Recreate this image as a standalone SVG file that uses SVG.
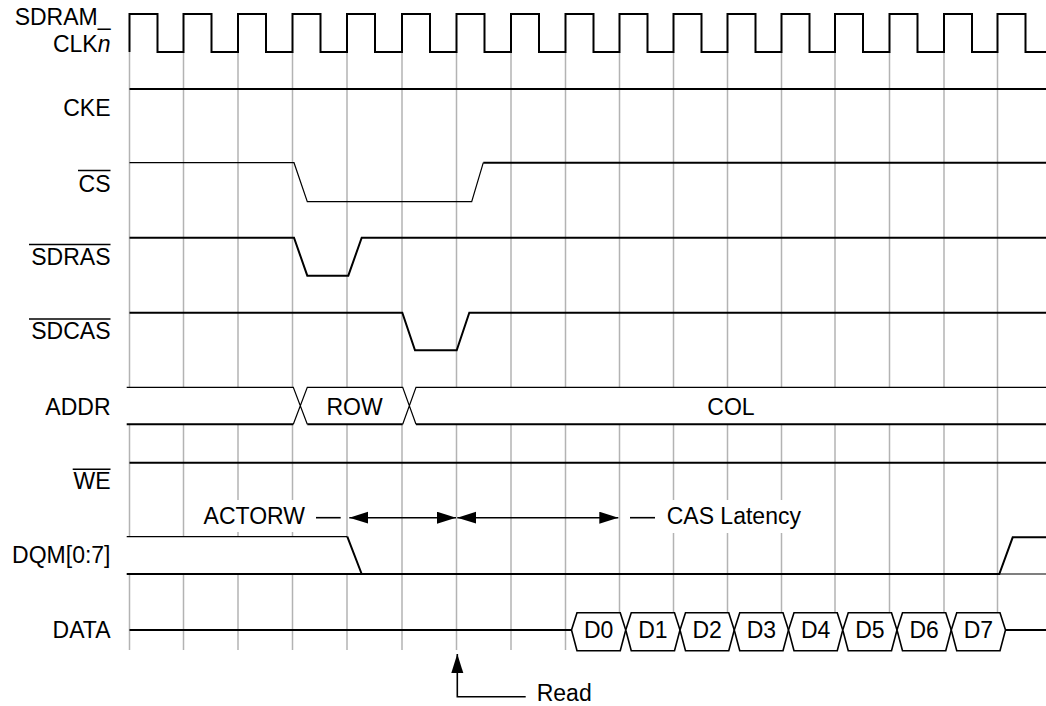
<svg xmlns="http://www.w3.org/2000/svg" width="1046" height="706" viewBox="0 0 1046 706">
<style>
text{font-family:"Liberation Sans",Arial,sans-serif;font-size:23px;fill:#000}
.lbl{text-anchor:end}
.mid{text-anchor:middle}
.grid line{stroke:#b3b3b3;stroke-width:1.5}
.sig{fill:none;stroke:#000;stroke-width:2;stroke-linejoin:miter}
.thin{fill:none;stroke:#000;stroke-width:1.2}
.ov{stroke:#000;stroke-width:1.6}
.hex{fill:#fff;stroke:#000;stroke-width:1.6}
.bg{fill:#fff;stroke:none}
.arr{fill:none;stroke:#000;stroke-width:1.6}
</style>
<defs>
<marker id="ah" markerUnits="userSpaceOnUse" markerWidth="20" markerHeight="14" refX="19" refY="6" orient="auto-start-reverse">
<path d="M0,0 L19,6 L0,12 Z" fill="#000"/>
</marker>
</defs>
<rect width="1046" height="706" fill="#fff"/>
<g id="grid" class="grid">
<line x1="129.5" y1="52" x2="129.5" y2="650"/>
<line x1="183.5" y1="52" x2="183.5" y2="650"/>
<line x1="238" y1="52" x2="238" y2="650"/>
<line x1="292.5" y1="52" x2="292.5" y2="650"/>
<line x1="347" y1="52" x2="347" y2="650"/>
<line x1="402" y1="52" x2="402" y2="650"/>
<line x1="456.5" y1="52" x2="456.5" y2="650"/>
<line x1="511" y1="52" x2="511" y2="650"/>
<line x1="565.5" y1="52" x2="565.5" y2="650"/>
<line x1="619.5" y1="52" x2="619.5" y2="650"/>
<line x1="673.5" y1="52" x2="673.5" y2="650"/>
<line x1="727.5" y1="52" x2="727.5" y2="650"/>
<line x1="781.5" y1="52" x2="781.5" y2="650"/>
<line x1="835" y1="52" x2="835" y2="650"/>
<line x1="889.5" y1="52" x2="889.5" y2="650"/>
<line x1="944" y1="52" x2="944" y2="650"/>
<line x1="997.5" y1="52" x2="997.5" y2="650"/>
</g>
<g id="clk">
<text class="lbl" x="110.5" y="25">SDRAM_</text>
<text class="lbl" x="110.5" y="52">CLK<tspan font-style="italic">n</tspan></text>
<path class="sig" d="M129.5,52 V14 H157.5 V52 H183.5 V14 H211.5 V52 H238 V14 H266 V52 H292.5 V14 H320.5 V52 H347 V14 H375 V52 H402 V14 H430 V52 H456.5 V14 H484.5 V52 H511 V14 H539 V52 H565.5 V14 H593.5 V52 H619.5 V14 H647.5 V52 H673.5 V14 H701.5 V52 H727.5 V14 H755.5 V52 H781.5 V14 H809.5 V52 H835 V14 H863 V52 H889.5 V14 H917.5 V52 H944 V14 H972 V52 H997.5 V14 H1025.5 V52 H1046"/>
</g>
<g id="cke">
<text class="lbl" x="110.5" y="116">CKE</text>
<path class="sig" d="M129.5,89 H1046"/>
</g>
<g id="cs">
<text class="lbl" x="110.5" y="191.5">CS</text>
<line class="ov" x1="78" y1="170.5" x2="110.5" y2="170.5"/>
<path class="thin" d="M129.5,162.7 H294 L307.3,201.7 H471.7 L483.3,162.7"/>
<path class="sig" d="M483.3,162.7 H1046"/>
</g>
<g id="sdras">
<text class="lbl" x="110.5" y="265">SDRAS</text>
<line class="ov" x1="29" y1="244.5" x2="110.5" y2="244.5"/>
<path class="sig" d="M129.5,237.7 H294 L307.3,275.7 H348.3 L361.7,237.7 H1046"/>
</g>
<g id="sdcas">
<text class="lbl" x="110.5" y="339.3">SDCAS</text>
<line class="ov" x1="29" y1="319" x2="110.5" y2="319"/>
<path class="sig" d="M129.5,312.7 H402.3 L415,350.3 H456.7 L469.3,312.7 H1046"/>
</g>
<g id="addr">
<text class="lbl" x="110.5" y="415">ADDR</text>
<path class="bg" d="M126.7,387.3 H293.3 L300.3,405.8 L307.3,387.3 H402.7 L409.3,405.8 L416,387.3 H990 V424.3 H416 L409.3,405.8 L402.7,424.3 H307.3 L300.3,405.8 L293.3,424.3 H126.7 Z"/>
<path class="thin" d="M126.7,387.3 H293.3 L307.3,424.3 M293.3,424.3 L307.3,387.3 H402.7 L416,424.3 M402.7,424.3 L416,387.3 H1046"/>
<path class="sig" d="M126.7,424.3 H293.3 M307.3,424.3 H402.7 M416,424.3 H1046"/>
<text class="mid" x="354.5" y="415">ROW</text>
<text class="mid" x="731" y="415">COL</text>
</g>
<g id="we">
<text class="lbl" x="110.5" y="489.3">WE</text>
<line class="ov" x1="72.7" y1="469.3" x2="110.5" y2="469.3"/>
<path class="sig" d="M129.5,462.7 H1046"/>
</g>
<g id="dqm">
<text class="lbl" x="110.5" y="563.3">DQM[0:7]</text>
<path class="bg" d="M126.7,536.7 H347.3 L361.7,574 H126.7 Z"/>
<path class="bg" d="M999.3,574 L1012.7,537.3 H1046 V574 Z"/>
<path class="thin" d="M126.7,536.7 H347.3"/>
<path class="sig" d="M347.3,536.7 L361.7,574 M126.7,574 H999.3 L1012.7,537.3 H1046"/>
<path class="thin" d="M999.3,574 H1046" stroke="#555"/>
</g>
<g id="data">
<text class="lbl" x="110.5" y="638.3">DATA</text>
<path class="sig" d="M129.5,630 H571.5 M1005.5,630 H1046"/>
<polygon class="hex" points="571.5,630 577,612.7 620.25,612.7 625.75,630 620.25,650.7 577,650.7"/>
<polygon class="hex" points="625.75,630 631.25,612.7 674.5,612.7 680,630 674.5,650.7 631.25,650.7"/>
<polygon class="hex" points="680,630 685.5,612.7 728.75,612.7 734.25,630 728.75,650.7 685.5,650.7"/>
<polygon class="hex" points="734.25,630 739.75,612.7 783,612.7 788.5,630 783,650.7 739.75,650.7"/>
<polygon class="hex" points="788.5,630 794,612.7 837.25,612.7 842.75,630 837.25,650.7 794,650.7"/>
<polygon class="hex" points="842.75,630 848.25,612.7 891.5,612.7 897,630 891.5,650.7 848.25,650.7"/>
<polygon class="hex" points="897,630 902.5,612.7 945.75,612.7 951.25,630 945.75,650.7 902.5,650.7"/>
<polygon class="hex" points="951.25,630 956.75,612.7 1000,612.7 1005.5,630 1000,650.7 956.75,650.7"/>
<text class="mid" x="598.6" y="638.3">D0</text>
<text class="mid" x="652.9" y="638.3">D1</text>
<text class="mid" x="707.1" y="638.3">D2</text>
<text class="mid" x="761.4" y="638.3">D3</text>
<text class="mid" x="815.6" y="638.3">D4</text>
<text class="mid" x="869.9" y="638.3">D5</text>
<text class="mid" x="924.1" y="638.3">D6</text>
<text class="mid" x="978.4" y="638.3">D7</text>
</g>
<g id="connectors">
<rect class="bg" x="198" y="500" width="146" height="32"/>
<rect class="bg" x="626" y="500" width="186" height="33"/>
<text class="lbl" x="305" y="524">ACTORW</text>
<text x="666.7" y="524">CAS Latency</text>
<line class="arr" x1="316" y1="517.7" x2="340.7" y2="517.7"/>
<line class="arr" x1="349.3" y1="517.7" x2="456" y2="517.7" marker-start="url(#ah)" marker-end="url(#ah)"/>
<line class="arr" x1="457.3" y1="517.7" x2="618.3" y2="517.7" marker-start="url(#ah)" marker-end="url(#ah)"/>
<line class="arr" x1="630" y1="517.7" x2="655" y2="517.7"/>
<path class="arr" d="M525.7,696.7 H457.3 V654" marker-end="url(#ah)"/>
<text x="536.7" y="700.5">Read</text>
</g>
</svg>
